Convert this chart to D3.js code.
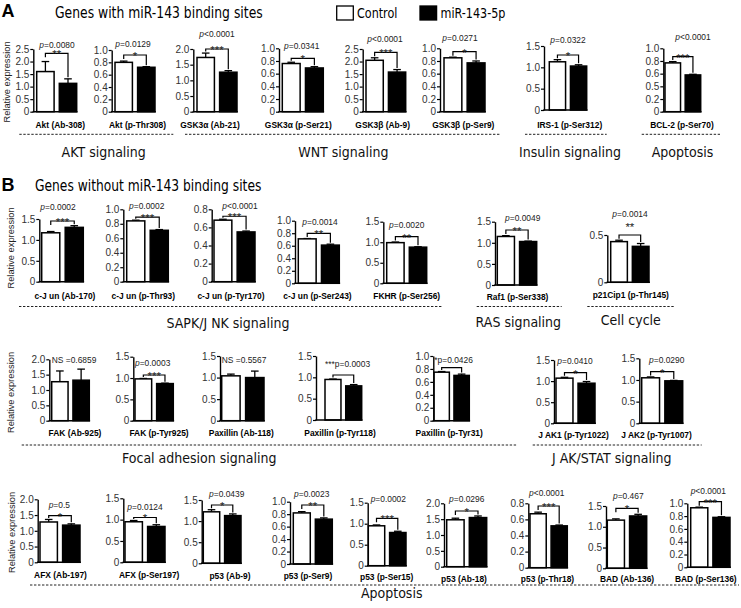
<!DOCTYPE html>
<html><head><meta charset="utf-8">
<script src="https://cdn.jsdelivr.net/npm/d3@7"></script>
<style>body{margin:0;background:#fff}</style>
</head><body><svg id="c" width="741" height="608"></svg>
<script>
// ---------------- DATA ----------------
const seriesNames = ["Control", "miR-143-5p"];
const sectionLetters = ["A", "B"];
const sectionTitles = ["Genes with miR-143 binding sites", "Genes without miR-143 binding sites"];
const axisTitle = "Relative expression";

const panelNames = [
  "Akt (Ab-308)", "Akt (p-Thr308)", "GSK3\u03b1 (Ab-21)", "GSK3\u03b1 (p-Ser21)", "GSK3\u03b2 (Ab-9)", "GSK3\u03b2 (p-Ser9)", "IRS-1 (p-Ser312)", "BCL-2 (p-Ser70)",
  "c-J un (Ab-170)", "c-J un (p-Thr93)", "c-J un (p-Tyr170)", "c-J un (p-Ser243)", "FKHR (p-Ser256)", "Raf1 (p-Ser338)", "p21Cip1 (p-Thr145)",
  "FAK (Ab-925)", "FAK (p-Tyr925)", "Paxillin (Ab-118)", "Paxillin (p-Tyr118)", "Paxillin (p-Tyr31)", "J AK1 (p-Tyr1022)", "J AK2 (p-Tyr1007)",
  "AFX (Ab-197)", "AFX (p-Ser197)", "p53 (Ab-9)", "p53 (p-Ser9)", "p53 (p-Ser15)", "p53 (Ab-18)", "p53 (p-Thr18)", "BAD (Ab-136)", "BAD (p-Ser136)"
];
const controlMeans = [1.60, 0.80, 1.73, 0.76, 2.05, 0.85, 1.13, 0.77,
  1.17, 0.84, 0.68, 0.71, 0.99, 1.15, 0.43,
  1.27, 0.98, 1.04, 0.95, 0.75, 1.07, 1.05,
  1.28, 0.95, 1.22, 0.82, 0.95, 1.48, 0.67, 1.16, 0.93];
const controlErrors = [0.40, 0.02, 0.14, 0.02, 0.10, 0.01, 0.05, 0.02,
  0.03, 0.01, 0.01, 0.005, 0.015, 0.02, 0.015,
  0.35, 0.01, 0.04, 0.01, 0.01, 0.02, 0.02,
  0.08, 0.03, 0.05, 0.02, 0.02, 0.05, 0.02, 0.03, 0.01];
const treatMeans = [1.13, 0.72, 1.26, 0.69, 1.58, 0.77, 1.03, 0.58,
  1.30, 0.71, 0.55, 0.61, 0.88, 1.03, 0.38,
  1.32, 0.87, 1.00, 0.80, 0.70, 0.95, 0.98,
  1.18, 0.84, 1.13, 0.72, 0.79, 1.55, 0.52, 1.26, 0.78];
const treatErrors = [0.18, 0.01, 0.05, 0.02, 0.10, 0.03, 0.03, 0.01,
  0.04, 0.01, 0.01, 0.015, 0.01, 0.01, 0.03,
  0.36, 0.01, 0.15, 0.03, 0.02, 0.04, 0.01,
  0.04, 0.04, 0.04, 0.02, 0.03, 0.05, 0.01, 0.04, 0.01];
const pTexts = ["p=0.0080", "p=0.0129", "p<0.0001", "p=0.0341", "p<0.0001", "p=0.0271", "p=0.0322", "p<0.0001",
  "p=0.0002", "p=0.0002", "p<0.0001", "p=0.0014", "p=0.0020", "p=0.0049", "p=0.0014",
  "NS =0.6859", "p=0.0003", "NS =0.5567", "***p=0.0003", "*p=0.0426", "p=0.0410", "p=0.0290",
  "p=0.5", "p=0.0124", "p=0.0439", "p=0.0023", "p=0.0002", "p=0.0296", "p<0.0001", "p=0.467", "p<0.0001"];
const starTexts = ["**", "*", "***", "*", "***", "*", "*", "***",
  "***", "***", "***", "**", "**", "**", "**",
  "", "***", "", "", "", "*", "*",
  "*", "*", "*", "**", "***", "*", "***", "*", "***"];

const ticks05 = [0, 0.5];
const ticks08 = [0, 0.2, 0.4, 0.6, 0.8];
const ticks10 = [0, 0.2, 0.4, 0.6, 0.8, 1.0];
const ticks15 = [0, 0.5, 1.0, 1.5];
const ticks20 = [0, 0.5, 1.0, 1.5, 2.0];
const ticks25 = [0, 0.5, 1.0, 1.5, 2.0, 2.5];
const labels05 = ["0", "0.5"];
const labels08 = ["0", "0.2", "0.4", "0.6", "0.8"];
const labels10 = ["0", "0.2", "0.4", "0.6", "0.8", "1.0"];
const labels10b = ["0", "0.2", "0.5", "0.6", "0.8", "1.0"];
const labels15 = ["0", "0.5", "1.0", "1.5"];
const labels20 = ["0", "0.5", "1.0", "1.5", "2.0"];
const labels25 = ["0", "0.5", "1.0", "1.5", "2.0", "2.5"];
const panelTickValues = [ticks25, ticks10, ticks20, ticks10, ticks25, ticks10, ticks15, ticks10,
  ticks15, ticks10, ticks08, ticks10, ticks15, ticks15, ticks05,
  ticks20, ticks15, ticks15, ticks15, ticks10, ticks15, ticks15,
  ticks20, ticks15, ticks15, ticks10, ticks15, ticks20, ticks08, ticks15, ticks10];
const panelTickLabels = [labels25, labels10, labels20, labels10, labels25, labels10, labels15, labels10b,
  labels15, labels10, labels08, labels10, labels15, labels15, labels05,
  labels20, labels15, labels15, labels15, labels10, labels15, labels15,
  labels20, labels15, labels15, labels10, labels15, labels20, labels08, labels15, labels10];

const groupNames = ["AKT signaling", "WNT signaling", "Insulin signaling", "Apoptosis",
  "SAPK/J NK signaling", "RAS signaling", "Cell cycle",
  "Focal adhesion signaling", "J AK/STAT signaling", "Apoptosis"];

// ---------------- LAYOUT (pixel placement only) ----------------
const layout = [
  {ax:33.3, top:49, bot:111.7, off:3.4, w:40, lx:60.3, ly:127.5, px:57, py:47.5, by:53.3},
  {ax:111.7, top:50, bot:111.7, off:3.3, w:40, lx:137.5, ly:127.5, px:133, py:46.5, by:55},
  {ax:193.3, top:49, bot:111.7, off:3.7, w:40, lx:210, ly:127.5, px:217, py:37, by:49},
  {ax:279, top:48.3, bot:111.7, off:3.3, w:41, lx:298.3, ly:127.5, px:301.7, py:49, by:58.3},
  {ax:362.7, top:49, bot:111.7, off:3.3, w:39.7, lx:382.7, ly:127.5, px:385, py:42, by:52.3},
  {ax:440, top:48.3, bot:111.7, off:4, w:41, lx:463.3, ly:127.5, px:460, py:41, by:51.7},
  {ax:544, top:46, bot:110, off:5.3, w:37.4, lx:569.7, ly:127.5, px:568, py:42.7, by:55},
  {ax:663.3, top:48.3, bot:111.7, off:1.7, w:35.7, lx:682, ly:127.5, px:693, py:40, by:56.7},

  {ax:39.3, top:219, bot:281.7, off:2.4, w:41.6, lx:65, ly:299, px:58, py:209.5, by:221},
  {ax:123.3, top:209.3, bot:281.7, off:3.4, w:41.6, lx:143.3, ly:299, px:146.7, py:208.8, by:217.5},
  {ax:211.7, top:209.3, bot:281.7, off:2.3, w:41, lx:231, ly:299, px:240, py:208.8, by:217},
  {ax:295, top:220.7, bot:283.3, off:3.3, w:41, lx:317.5, ly:299, px:320, py:225, by:233.3},
  {ax:383.3, top:221.7, bot:283.3, off:3.4, w:40, lx:406.7, ly:299, px:406.7, py:228.3, by:236.7},
  {ax:495, top:221.7, bot:285, off:2.3, w:39.4, lx:517.5, ly:300, px:522.7, py:221, by:230},
  {ax:607.3, top:235, bot:282.3, off:3.4, w:38.3, lx:630.8, ly:298, px:630, py:216.5, by:235, sy:230.5},

  {ax:49.3, top:359.3, bot:420.7, off:2.4, w:37.6, lx:75, ly:435.8, px:51.7, py:363.3, pa:"start"},
  {ax:133.3, top:356.7, bot:420.7, off:1.7, w:38.3, lx:159, ly:435.8, px:135, py:366, pa:"start", by:375},
  {ax:220, top:356, bot:420.7, off:1.7, w:42.3, lx:241.3, ly:435.8, px:221.7, py:363.3, pa:"start"},
  {ax:316, top:356, bot:420, off:9, w:36.7, lx:340, ly:435.8, px:325, py:367.3, pa:"start", by:375},
  {ax:433.3, top:356, bot:420.7, off:0.7, w:35.3, lx:449.2, ly:435.8, px:434.3, py:363.3, pa:"start", by:367.7},
  {ax:554, top:360, bot:423.3, off:2, w:39, lx:573.5, ly:438.3, px:575, py:364.3, by:372.7},
  {ax:639.3, top:358.3, bot:423.3, off:2.4, w:41, lx:656.5, ly:438.3, px:666.7, py:362.7, by:371.7},

  {ax:37.7, top:499.3, bot:562.3, off:2.3, w:40, lx:60.5, ly:577.5, px:59.3, py:508.3, by:515.7},
  {ax:123.3, top:498.3, bot:562.3, off:1.7, w:40, lx:149.2, ly:577.5, px:145, py:510, by:517.7},
  {ax:201.7, top:500, bot:563.3, off:1.6, w:37.7, lx:230, ly:578.5, px:226.7, py:496.7, by:505},
  {ax:290, top:501.7, bot:564, off:3.3, w:39, lx:308, ly:578.5, px:311.7, py:497.3, by:505},
  {ax:367.7, top:502.7, bot:565.7, off:0.6, w:37.7, lx:386.7, ly:580, px:388.3, py:502.3, by:518.3},
  {ax:444, top:503.3, bot:566.7, off:2.7, w:40, lx:464, ly:581.5, px:466.7, py:502.3, by:511},
  {ax:528.3, top:503.3, bot:567.7, off:1.7, w:37.3, lx:547.5, ly:582, px:546.7, py:496, by:506},
  {ax:606, top:506, bot:568.3, off:1.3, w:39.4, lx:627, ly:582, px:628.3, py:499.3, by:508.3},
  {ax:687.3, top:503.3, bot:567.3, off:3.4, w:39.3, lx:705.8, ly:582, px:708.3, py:494.3, by:501.7}
];
const groupLayout = [
  {x1:19.3, x2:173.3, y:134.3, tx:103.7, ty:157},
  {x1:185, x2:500.7, y:134.3, tx:343.3, ty:157},
  {x1:525, x2:606.7, y:134.3, tx:570, ty:157},
  {x1:641.7, x2:720, y:134.3, tx:682.5, ty:157},
  {x1:19, x2:443, y:306.5, tx:228, ty:328},
  {x1:476.7, x2:561.7, y:306.5, tx:518.3, ty:327},
  {x1:587.3, x2:675, y:306.5, tx:630.8, ty:325},
  {x1:21.7, x2:516.7, y:445, tx:199.2, ty:463},
  {x1:532.7, x2:701.7, y:445, tx:611.7, ty:463},
  {x1:30, x2:739, y:585, tx:391.7, ty:597.5}
];
const yTitlePos = [[7.3, 82], [11, 248], [11, 392.5], [11.7, 532.5]];

// ---------------- DRAW ----------------
const svg = d3.select("#c");
const SANS = "'Liberation Sans', Arial, sans-serif";
const DJ = "'DejaVu Sans', Verdana, sans-serif";

function txt(g, x, y, s, o) {
  const t = g.append("text")
    .attr("transform", `translate(${x},${y})${o.rot ? ` rotate(${o.rot})` : ""} scale(${o.sx || 1},1)`)
    .attr("font-family", o.ff || SANS)
    .attr("font-size", o.fs || 9)
    .attr("font-weight", o.fw || "normal")
    .attr("text-anchor", o.a || "start")
    .attr("fill", o.fill || "#000");
  if (o.italicP && s.startsWith("p")) {
    t.append("tspan").attr("font-style", "italic").text("p");
    t.append("tspan").text(s.slice(1));
  } else t.text(s);
  return t;
}

// Section headers
txt(svg, 1.5, 16.7, sectionLetters[0], {fs: 18, fw: "bold"});
txt(svg, 55, 18.3, sectionTitles[0], {ff: DJ, fs: 15, sx: 0.825});
txt(svg, 1.5, 190.7, sectionLetters[1], {fs: 18, fw: "bold"});
txt(svg, 35, 190.7, sectionTitles[1], {ff: DJ, fs: 15, sx: 0.82});

// Legend
const leg = svg.append("g");
[[336.7, 357], [420, 440.5]].forEach((p, k) => {
  leg.append("rect").attr("x", p[0]).attr("y", 6).attr("width", 16.6).attr("height", 14)
    .attr("fill", k ? "#000" : "#fff").attr("stroke", "#000").attr("stroke-width", 1.3);
  txt(leg, p[1], 18, seriesNames[k], {ff: DJ, fs: 14, sx: 0.8});
});

// Y titles
yTitlePos.forEach(p => txt(svg, p[0] + 3, p[1], axisTitle, {fs: 9.3, rot: -90, a: "middle", fill: "#222"}));

// Panels
panelNames.forEach((name, i) => {
  const L = layout[i];
  const g = svg.append("g");
  const vals = [controlMeans[i], treatMeans[i]];
  const errs = [controlErrors[i], treatErrors[i]];
  const tv = panelTickValues[i];
  const y = d3.scaleLinear().domain([0, tv[tv.length - 1]]).range([L.bot, L.top]);
  const x = d3.scaleBand().domain(seriesNames).range([L.ax + L.off, L.ax + L.off + L.w]).paddingInner(0.23).paddingOuter(0);
  const bw = x.bandwidth();

  seriesNames.forEach((s, k) => {
    const cx = x(s) + bw / 2;
    g.append("line").attr("x1", cx).attr("x2", cx).attr("y1", y(vals[k])).attr("y2", y(vals[k] + errs[k]))
      .attr("stroke", "#000").attr("stroke-width", 1.3);
    g.append("line").attr("x1", cx - 3.8).attr("x2", cx + 3.8).attr("y1", y(vals[k] + errs[k])).attr("y2", y(vals[k] + errs[k]))
      .attr("stroke", "#000").attr("stroke-width", 1.3);
  });

  g.selectAll("rect.bar").data(seriesNames).join("rect").attr("class", "bar")
    .attr("x", d => x(d)).attr("width", bw)
    .attr("y", (d, k) => y(vals[k])).attr("height", (d, k) => L.bot - y(vals[k]))
    .attr("fill", (d, k) => k ? "#000" : "#fff").attr("stroke", "#000").attr("stroke-width", 1.5);

  const axis = d3.axisLeft(y).tickValues(tv).tickFormat((d, k) => panelTickLabels[i][k])
    .tickSize(3).tickSizeOuter(0).tickPadding(1);
  const ag = g.append("g").attr("transform", `translate(${L.ax},0)`).call(axis);
  ag.select(".domain").attr("stroke", "#000").attr("stroke-width", 1.4);
  ag.selectAll(".tick line").attr("stroke", "#000").attr("stroke-width", 1.2);
  ag.selectAll(".tick text").attr("font-family", SANS).attr("font-size", 10).attr("fill", "#333");
  g.append("line").attr("x1", L.ax - 0.7).attr("x2", x(seriesNames[1]) + bw + 0.8)
    .attr("y1", L.bot).attr("y2", L.bot).attr("stroke", "#000").attr("stroke-width", 1.5);

  const c1 = x(seriesNames[0]) + bw / 2, c2 = x(seriesNames[1]) + bw / 2;
  if (L.by != null) {
    const t1 = y(vals[0] + errs[0]), t2 = y(vals[1] + errs[1]);
    const by = Math.min(L.by, Math.min(t1, t2) - 3);
    const l1 = Math.min(by + 4, t1 - 1.5), l2 = t2 - 1.5;
    g.append("path").attr("d", `M${c1},${l1}V${by}H${c2}V${l2}`)
      .attr("fill", "none").attr("stroke", "#000").attr("stroke-width", 1.2);
    if (starTexts[i]) txt(g, (c1 + c2) / 2, L.sy != null ? L.sy : by + 5, starTexts[i], {fs: 11.5, a: "middle", fill: "#222"});
  }
  txt(g, L.px, L.py, pTexts[i], {fs: 9.8, sx: 0.86, a: L.pa || "middle", italicP: true, fill: "#222"});
  txt(g, L.lx, L.ly, name, {fs: 9.8, fw: "bold", sx: 0.86, a: "middle"});
});

// Groups
groupNames.forEach((gn, j) => {
  const G = groupLayout[j];
  svg.append("line").attr("x1", G.x1).attr("x2", G.x2).attr("y1", G.y).attr("y2", G.y)
    .attr("stroke", "#222").attr("stroke-width", 1).attr("stroke-dasharray", "2.4,1.6");
  txt(svg, G.tx, G.ty, gn, {ff: DJ, fs: 14, sx: 0.9, a: "middle", fill: "#111"});
});
</script></body></html>
